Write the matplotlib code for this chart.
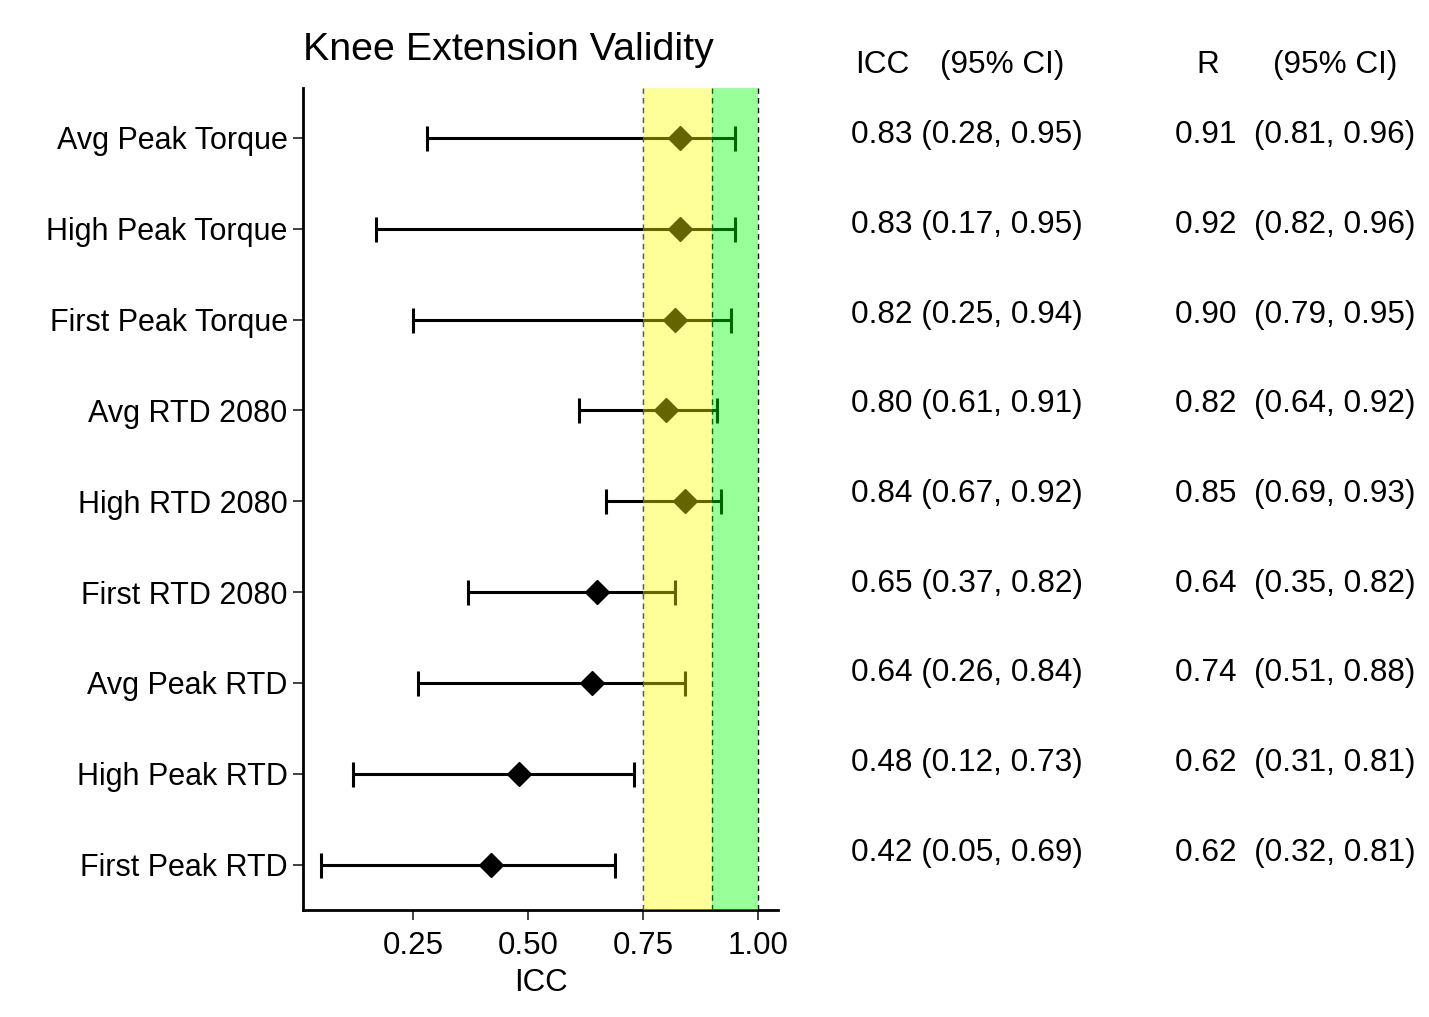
import matplotlib
matplotlib.use("Agg")
import matplotlib.pyplot as plt

plt.rcParams['font.family'] = ['Liberation Sans', 'DejaVu Sans']

# data (top row first)
measures = ["Avg Peak Torque", "High Peak Torque", "First Peak Torque",
            "Avg RTD 2080", "High RTD 2080", "First RTD 2080",
            "Avg Peak RTD", "High Peak RTD", "First Peak RTD"]
icc = [0.83, 0.83, 0.82, 0.80, 0.84, 0.65, 0.64, 0.48, 0.42]
icc_lo = [0.28, 0.17, 0.25, 0.61, 0.67, 0.37, 0.26, 0.12, 0.05]
icc_hi = [0.95, 0.95, 0.94, 0.91, 0.92, 0.82, 0.84, 0.73, 0.69]
r_val = [0.91, 0.92, 0.90, 0.82, 0.85, 0.64, 0.74, 0.62, 0.62]
r_lo = [0.81, 0.82, 0.79, 0.64, 0.69, 0.35, 0.51, 0.31, 0.32]
r_hi = [0.96, 0.96, 0.95, 0.92, 0.93, 0.82, 0.88, 0.81, 0.81]
x_ticks = [0.25, 0.50, 0.75, 1.00]
x_tick_labels = ["0.25", "0.50", "0.75", "1.00"]
moderate = (0.75, 0.90)
good = (0.90, 1.00)


def main() -> None:
	fig = plt.figure(figsize=(14.29, 10.17), dpi=100)
	ax = fig.add_axes([0.212, 0.1052, 0.3324, 0.8083])

	n = len(measures)
	ys = [n - i for i in range(n)]
	xerr = [[m - lo for m, lo in zip(icc, icc_lo)],
			[hi - m for m, hi in zip(icc, icc_hi)]]

	# dashed boundaries under the bands
	for xv in (moderate[0], good[0], good[1]):
		ax.axvline(xv, color='black', linestyle=(0, (4, 3)), linewidth=1.0, zorder=1)

	ax.errorbar(icc, ys, xerr=xerr, fmt='D', color='black', markersize=12,
				elinewidth=2.2, capsize=9, capthick=2.2, zorder=2)

	# shaded bands drawn on top, like the reference
	ax.axvspan(moderate[0], moderate[1], color=(1, 1, 0), alpha=0.4, linewidth=0, zorder=3)
	ax.axvspan(good[0], good[1], color=(0, 1, 0), alpha=0.4, linewidth=0, zorder=3)

	ax.set_xlim(0.011, 1.043)
	ax.set_ylim(0.5, n + 0.55)
	ax.set_xticks(x_ticks)
	ax.set_xticklabels(x_tick_labels)
	ax.set_yticks(ys)
	ax.set_yticklabels(measures)
	ax.tick_params(axis='x', labelsize=22.5, pad=8)
	ax.tick_params(axis='y', labelsize=22.0, pad=4)
	ax.tick_params(axis='both', length=7, width=1.3, color='#333333', labelcolor='black')
	for side in ('top', 'right'):
		ax.spines[side].set_visible(False)
	for side in ('left', 'bottom'):
		ax.spines[side].set_linewidth(2.0)
	ax.set_xlabel("ICC", fontsize=22.5, labelpad=5)
	ax.set_title("Knee Extension Validity", fontsize=28.4, pad=20, loc='left', x=0.0)

	# table on the right
	fs = 22.7
	head_y = 1 - 65 / 1017
	fig.text(855 / 1429, head_y, "ICC", fontsize=fs, ha='left', va='center')
	fig.text(940 / 1429, head_y, "(95% CI)", fontsize=fs, ha='left', va='center')
	fig.text(1196 / 1429, head_y, "R", fontsize=fs, ha='left', va='center')
	fig.text(1273 / 1429, head_y, "(95% CI)", fontsize=fs, ha='left', va='center')
	top_px, step_px = 135, 89.75
	for i in range(n):
		yf = 1 - (top_px + i * step_px) / 1017
		fig.text(851 / 1429, yf, f"{icc[i]:.2f} ({icc_lo[i]:.2f}, {icc_hi[i]:.2f})",
				 fontsize=fs, ha='left', va='center')
		fig.text(1175 / 1429, yf, f"{r_val[i]:.2f}  ({r_lo[i]:.2f}, {r_hi[i]:.2f})",
				 fontsize=fs, ha='left', va='center')

	fig.savefig("out.png", dpi=100)


if __name__ == "__main__":
	main()
